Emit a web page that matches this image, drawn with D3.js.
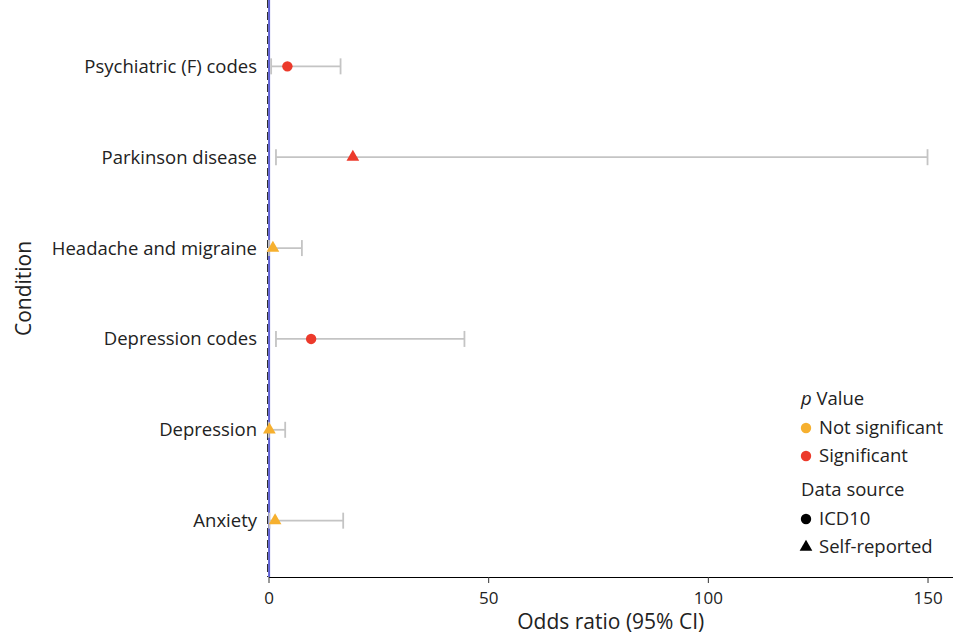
<!DOCTYPE html>
<html>
<head>
<meta charset="utf-8">
<script src="https://cdn.jsdelivr.net/npm/d3@7"></script>
<style>
  body { margin: 0; background: #fff; }
  svg { font-family: "Open Sans", "Noto Sans", sans-serif; }
</style>
</head>
<body>
<svg id="chart" width="953" height="636"></svg>
<script>
// condition labels, bottom to top as drawn
var conditions = ["Anxiety", "Depression", "Depression codes", "Headache and migraine", "Parkinson disease", "Psychiatric (F) codes"];
var oddsRatio  = [1.5, 0.2, 9.7, 1.0, 19.2, 4.3];
var ciLow      = [0.2, 0.05, 1.7, 0.1, 1.7, 0.6];
var ciHigh     = [17.0, 3.8, 44.6, 7.6, 150.0, 16.4];
var significant = [false, false, true, false, true, true];
var source     = ["Self-reported", "Self-reported", "ICD10", "Self-reported", "Self-reported", "ICD10"];
var xTicks     = [0, 50, 100, 150];

var svg = d3.select("#chart");
var width = 953, height = 636;
var left = 268.5, bottom = 577;

var colNS = "#f6b02f", colSig = "#ec3a2b";

var x = d3.scaleLinear().domain([0, 155.8]).range([left, width]);
var y = d3.scalePoint().domain(conditions).range([bottom, 10]).padding(0.62);

var rows = conditions.map(function(c, i) {
    return {name: c, or: oddsRatio[i], lo: ciLow[i], hi: ciHigh[i], sig: significant[i], src: source[i]};
});

// x axis
var xAxis = svg.append("g")
    .attr("transform", "translate(0," + bottom + ")")
    .call(d3.axisBottom(x).tickValues(xTicks).tickSize(6).tickSizeOuter(0));
xAxis.select(".domain").attr("stroke", "#000").attr("stroke-width", 1.2);
xAxis.selectAll(".tick line").attr("stroke", "#333");
xAxis.selectAll("text")
    .attr("font-size", 17).attr("fill", "#222").attr("dy", "1.05em")
    .attr("font-family", "Open Sans");

// y labels
svg.append("g").selectAll("text")
    .data(rows).enter().append("text")
    .attr("x", 257).attr("y", function(d) { return y(d.name); })
    .attr("dy", "0.35em").attr("text-anchor", "end")
    .attr("font-size", 18.5).attr("fill", "#222")
    .text(function(d) { return d.name; });

// y axis line + reference line
svg.append("line")
    .attr("x1", left - 0.8).attr("x2", left - 0.8)
    .attr("y1", 0).attr("y2", bottom)
    .attr("stroke", "#000").attr("stroke-width", 1).attr("stroke-dasharray", "8,4");
svg.append("line")
    .attr("x1", left + 0.6).attr("x2", left + 0.6)
    .attr("y1", 0).attr("y2", bottom)
    .attr("stroke", "#5d5fd3").attr("stroke-width", 2);

// error bars
var bars = svg.append("g").selectAll("g")
    .data(rows).enter().append("g")
    .attr("stroke", "#c4c4c4").attr("stroke-width", 1.8);
bars.append("line")
    .attr("x1", function(d) { return x(d.lo); })
    .attr("x2", function(d) { return x(d.hi); })
    .attr("y1", function(d) { return y(d.name); })
    .attr("y2", function(d) { return y(d.name); });
bars.append("line")
    .attr("x1", function(d) { return x(d.lo); })
    .attr("x2", function(d) { return x(d.lo); })
    .attr("y1", function(d) { return y(d.name) - 8; })
    .attr("y2", function(d) { return y(d.name) + 8; });
bars.append("line")
    .attr("x1", function(d) { return x(d.hi); })
    .attr("x2", function(d) { return x(d.hi); })
    .attr("y1", function(d) { return y(d.name) - 8; })
    .attr("y2", function(d) { return y(d.name) + 8; });

// points
var circleSym = d3.symbol().type(d3.symbolCircle).size(85);
var triSym = d3.symbol().type(d3.symbolTriangle).size(70);
svg.append("g").selectAll("path")
    .data(rows).enter().append("path")
    .attr("transform", function(d) { return "translate(" + x(d.or) + "," + y(d.name) + ")"; })
    .attr("d", function(d) { return d.src === "ICD10" ? circleSym() : triSym(); })
    .attr("fill", function(d) { return d.sig ? colSig : colNS; });

// axis titles
svg.append("text")
    .attr("x", (left + width) / 2).attr("y", 629)
    .attr("text-anchor", "middle").attr("font-size", 21).attr("fill", "#222")
    .text("Odds ratio (95% CI)");
svg.append("text")
    .attr("transform", "translate(31," + (bottom / 2) + ") rotate(-90)")
    .attr("text-anchor", "middle").attr("font-size", 21).attr("fill", "#222")
    .text("Condition");

// legend
var lg = svg.append("g").attr("font-size", 18.5).attr("fill", "#222");
var t = lg.append("text").attr("x", 801).attr("y", 405);
t.append("tspan").attr("font-style", "italic").text("p");
t.append("tspan").text(" Value");
var colItems = [{label: "Not significant", col: colNS}, {label: "Significant", col: colSig}];
colItems.forEach(function(d, i) {
    var yy = 428 + i * 28;
    lg.append("path").attr("transform", "translate(806," + yy + ")")
        .attr("d", circleSym()).attr("fill", d.col);
    lg.append("text").attr("x", 819).attr("y", yy).attr("dy", "0.35em").text(d.label);
});
lg.append("text").attr("x", 801).attr("y", 496).text("Data source");
var shapeItems = [{label: "ICD10", sym: circleSym}, {label: "Self-reported", sym: triSym}];
shapeItems.forEach(function(d, i) {
    var yy = 519 + i * 28;
    lg.append("path").attr("transform", "translate(806," + yy + ")")
        .attr("d", d.sym()).attr("fill", "#000");
    lg.append("text").attr("x", 819).attr("y", yy).attr("dy", "0.35em").text(d.label);
});
</script>
</body>
</html>
